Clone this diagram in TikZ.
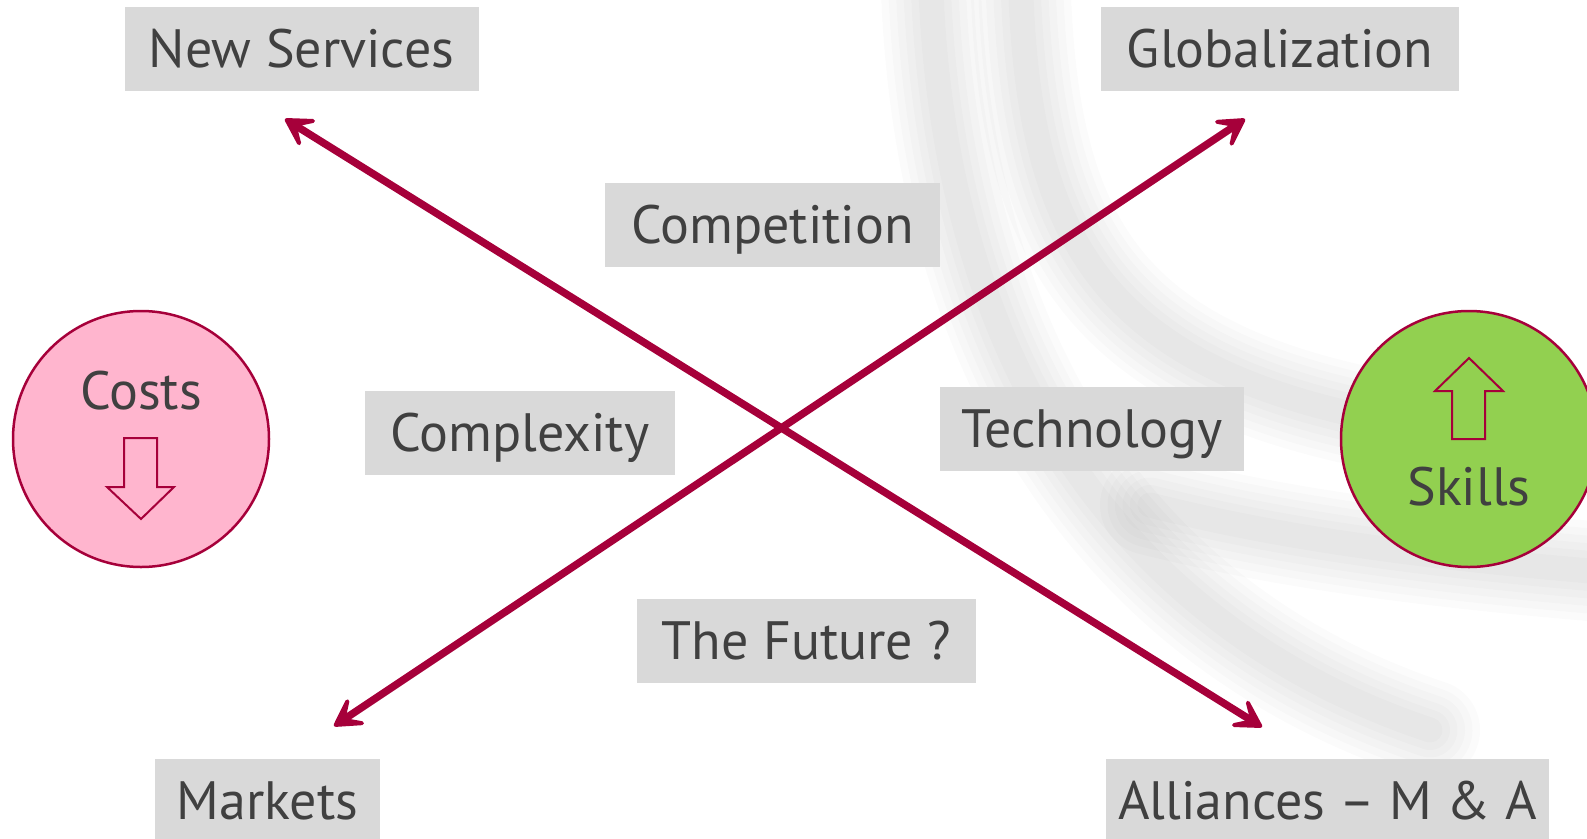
\documentclass[tikz,border=0pt]{standalone}
\usepackage{fontspec}
\setmainfont{PT Sans}
\usetikzlibrary{arrows.meta}

\definecolor{crimson}{HTML}{A6003A}
\definecolor{boxgrey}{HTML}{D9D9D9}
\definecolor{textgrey}{HTML}{404040}
\definecolor{costpink}{HTML}{FFB5CE}
\definecolor{skillgreen}{HTML}{92D050}

\begin{document}
\begin{tikzpicture}[x=1pt, y=-1pt,
		box_style/.style={fill=boxgrey,text=textgrey,minimum width=#1,minimum height=84pt,
			inner sep=0pt,text height=37pt,text depth=0pt,font=\fontsize{54}{60}\selectfont},
		ring_style/.style={circle,draw=crimson,line width=2.5pt,minimum size=256pt,inner sep=0pt},
		ring_text/.style={text=textgrey,inner sep=0pt,text height=37pt,text depth=0pt,
			font=\fontsize{54}{60}\selectfont},
		small_arrow/.style={draw=crimson,line width=2pt,line join=miter},
		edge_style/.style={draw=crimson,line width=7.5pt,
			{Stealth[length=40pt,width=46pt,inset=24pt,round]}-{Stealth[length=40pt,width=46pt,inset=24pt,round]}},
		swoosh_style/.style={draw=black,opacity=0.017,line cap=round}]
		
		\useasboundingbox (0,0) rectangle (1587,838);
		
		% soft grey swoosh in the background
		\foreach \w in {100,85,70,55,40,25}{
			\draw[swoosh_style,line width=\w pt] (930,-60) .. controls (930,330) and (1100,620) .. (1430,730);
			\draw[swoosh_style,line width=\w pt] (1020,-60) .. controls (1020,300) and (1130,420) .. (1640,450);
			\draw[swoosh_style,line width=\w pt] (1150,505) .. controls (1250,530) and (1380,555) .. (1640,575);
		}
		
		\node[box_style=354pt] (services) at (301.5,49)  {New Services};
		\node[box_style=358pt] (global) at (1280,49)  {Globalization};
		\node[box_style=335pt] (compet) at (772.5,225)  {Competition};
		\node[box_style=310pt] (complex) at (520,433)  {Complexity};
		\node[box_style=304pt] (tech) at (1092,429)  {Technology};
		\node[box_style=339pt] (future) at (806.5,641)  {The Future ?};
		\node[box_style=225pt] (markets) at (267.5,801)  {Markets};
		\node[box_style=443pt] (alliances) at (1327.5,801)  {Alliances -- M \& A};
		
		\node[ring_style,fill=costpink] (costs) at (141,439)  {};
		\node[ring_style,fill=skillgreen] (skills) at (1469,439)  {};
		\node[ring_text] (costs_lbl) at (141,390.5)  {Costs};
		\node[ring_text] (skills_lbl) at (1469,486.5)  {Skills};
		
		\draw[small_arrow] (124,438) -- (157,438) -- (157,487) -- (174,487) -- (141,519) -- (107,487) -- (124,487) -- cycle;
		\draw[small_arrow] (1452,439) -- (1485,439) -- (1485,391) -- (1503,391) -- (1469,358) -- (1435,391) -- (1452,391) -- cycle;
		
		\coordinate (services_end) at (285,119);
		\coordinate (alliances_end) at (1262,727);
		\coordinate (global_end) at (1245,119);
		\coordinate (markets_end) at (334,726);
		
		\draw[edge_style]  (services_end) -- (alliances_end);
		\draw[edge_style]  (markets_end) -- (global_end);
		
\end{tikzpicture}
\end{document}
